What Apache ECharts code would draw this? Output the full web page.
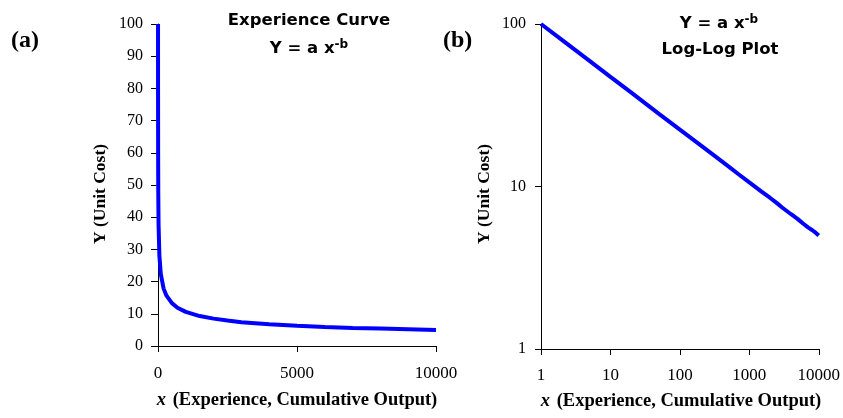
<!DOCTYPE html>
<html><head><meta charset="utf-8">
<script src="https://cdn.jsdelivr.net/npm/echarts@6/dist/echarts.min.js"></script>
<style>html,body{margin:0;padding:0;background:#fff}#c{width:843px;height:418px}</style>
</head><body><div id="c"></div>
<script>
// Experience (cumulative output) values
const xValues = [1, 2, 5, 10, 20, 50, 100, 200, 300, 500, 700, 1000, 1500, 2000, 2500, 3000, 4000, 5000, 6000, 7000, 8000, 9000, 10000];
// Unit cost values
const yValues = [100, 79.8, 59.3, 47.3, 37.8, 28.0, 22.4, 17.9, 15.7, 13.3, 11.9, 10.6, 9.3, 8.5, 7.9, 7.4, 6.75, 6.3, 5.9, 5.6, 5.4, 5.2, 5.0];
const linTicksX = [0, 5000, 10000];
const logTicks = [1, 10, 100, 1000, 10000];

const pts = xValues.map((x, i) => [x, yValues[i]]);
const serif = '"Liberation Serif", "Times New Roman", serif';
const sans = '"DejaVu Sans", Arial, sans-serif';
const axisCommon = {
  axisLine: { show: true, lineStyle: { color: '#000', width: 1 } },
  axisTick: { show: true, length: 6, lineStyle: { color: '#000' } },
  splitLine: { show: false },
  minorTick: { show: false }
};
const chart = echarts.init(document.getElementById('c'));
chart.setOption({
  animation: false,
  grid: [
    { left: 158, right: 407, top: 24, bottom: 72 },
    { left: 541, right: 23, top: 24, bottom: 69 }
  ],
  xAxis: [
    Object.assign({}, axisCommon, {
      gridIndex: 0, type: 'value', min: 0, max: 10000, interval: 5000,
      axisLabel: { fontFamily: serif, fontSize: 17, color: '#000', margin: 19, formatter: v => String(v) }
    }),
    Object.assign({}, axisCommon, {
      gridIndex: 1, type: 'log', logBase: 10, min: 1, max: 10000,
      axisLabel: { fontFamily: serif, fontSize: 17, color: '#000', margin: 18, formatter: v => String(Math.round(v)) }
    })
  ],
  yAxis: [
    Object.assign({}, axisCommon, {
      gridIndex: 0, type: 'value', min: 0, max: 100, interval: 10,
      axisTick: { show: true, length: 7, lineStyle: { color: '#000' } },
      axisLabel: { fontFamily: serif, fontSize: 16, color: '#000', margin: 15 }
    }),
    Object.assign({}, axisCommon, {
      gridIndex: 1, type: 'log', logBase: 10, min: 1, max: 100,
      axisLabel: { fontFamily: serif, fontSize: 16, color: '#000', margin: 15, formatter: v => String(Math.round(v)) }
    })
  ],
  series: [
    { type: 'line', xAxisIndex: 0, yAxisIndex: 0, data: pts, showSymbol: false, lineStyle: { color: '#0000ff', width: 4 }, z: 5 },
    { type: 'line', xAxisIndex: 1, yAxisIndex: 1, data: pts, showSymbol: false, lineStyle: { color: '#0000ff', width: 4 }, z: 5 }
  ],
  graphic: [
    { type: 'text', left: 11, top: 29, style: { text: '(a)', font: 'bold 24px ' + serif, fill: '#000' } },
    { type: 'text', left: 443, top: 29, style: { text: '(b)', font: 'bold 24px ' + serif, fill: '#000' } },
    { type: 'text', x: 309, y: 21, style: { text: 'Experience Curve', font: 'bold 16.5px ' + sans, fill: '#000', align: 'center', verticalAlign: 'middle' } },
    { type: 'text', x: 309, y: 49, style: { text: '{m|Y = a x}{s|-b}', align: 'center', verticalAlign: 'middle',
      rich: { m: { font: 'bold 16.5px ' + sans, color: '#000' }, s: { font: 'bold 12px ' + sans, color: '#000', verticalAlign: 'top', padding: [0, 0, 8, 0] } } } },
    { type: 'text', x: 719, y: 24, style: { text: '{m|Y = a x}{s|-b}', align: 'center', verticalAlign: 'middle',
      rich: { m: { font: 'bold 16.5px ' + sans, color: '#000' }, s: { font: 'bold 12px ' + sans, color: '#000', verticalAlign: 'top', padding: [0, 0, 8, 0] } } } },
    { type: 'text', x: 720, y: 50, style: { text: 'Log-Log Plot', font: 'bold 16.5px ' + sans, fill: '#000', align: 'center', verticalAlign: 'middle' } },
    { type: 'text', x: 100, y: 194, rotation: Math.PI / 2, style: { text: 'Y (Unit Cost)', font: 'bold 17.5px ' + serif, fill: '#000', align: 'center', verticalAlign: 'middle' } },
    { type: 'text', x: 484, y: 194, rotation: Math.PI / 2, style: { text: 'Y (Unit Cost)', font: 'bold 17.5px ' + serif, fill: '#000', align: 'center', verticalAlign: 'middle' } },
    { type: 'text', x: 297, y: 400, style: { text: '{i|x}  {b|(Experience, Cumulative Output)}', align: 'center', verticalAlign: 'middle',
      rich: { i: { font: 'italic bold 18.5px ' + serif, color: '#000' }, b: { font: 'bold 18.5px ' + serif, color: '#000' } } } },
    { type: 'text', x: 681, y: 401, style: { text: '{i|x}  {b|(Experience, Cumulative Output)}', align: 'center', verticalAlign: 'middle',
      rich: { i: { font: 'italic bold 18.5px ' + serif, color: '#000' }, b: { font: 'bold 18.5px ' + serif, color: '#000' } } } }
  ]
});
</script></body></html>
